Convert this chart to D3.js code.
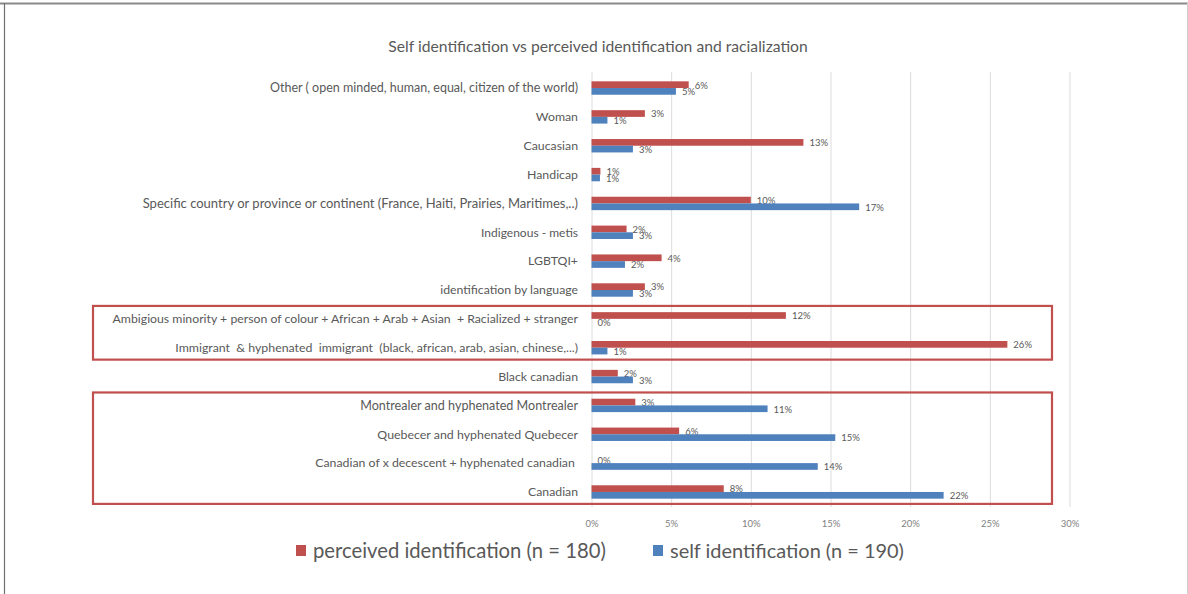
<!DOCTYPE html>
<html><head><meta charset="utf-8">
<script src="https://cdn.jsdelivr.net/npm/d3@7/dist/d3.min.js"></script>
<style>
html,body{margin:0;padding:0;background:#fff;}
svg{display:block;}
text{font-family:"Lato","Open Sans",sans-serif;white-space:pre;}
</style></head>
<body>
<script>
const categories = [
  "Other ( open minded, human, equal, citizen of the world)",
  "Woman",
  "Caucasian",
  "Handicap",
  "Specific country or province or continent (France, Haiti, Prairies, Maritimes,..)",
  "Indigenous - metis",
  "LGBTQI+",
  "identification by language",
  "Ambigious minority + person of colour + African + Arab + Asian  + Racialized + stranger",
  "Immigrant  & hyphenated  immigrant  (black, african, arab, asian, chinese,...)",
  "Black canadian",
  "Montrealer and hyphenated Montrealer",
  "Quebecer and hyphenated Quebecer",
  "Canadian of x decescent + hyphenated canadian ",
  "Canadian"
];
const perceived = [0.061,0.0335,0.133,0.0056,0.100,0.022,0.044,0.0335,0.122,0.261,0.0165,0.0275,0.055,0,0.083];
const selfId    = [0.053,0.010,0.026,0.0053,0.168,0.026,0.021,0.026,0,0.010,0.026,0.1105,0.153,0.142,0.221];
const seriesNames = ["perceived identification (n = 180)","self identification (n = 190)"];
const seriesColors = ["#C0504D","#4F81BD"];
const xTicks = [0,0.05,0.10,0.15,0.20,0.25,0.30];
const title = "Self identification vs perceived identification and racialization";
const highlightGroups = [[8,9],[11,14]];

const W=1188,H=594;
const svg=d3.select("body").append("svg").attr("width",W).attr("height",H);
const x=d3.scaleLinear().domain([0,0.30]).range([591.5,1069.5]);
const y=d3.scaleBand().domain(categories).range([73.6,506.4]).paddingInner(0).paddingOuter(0);
const barH=6.7;
const grey="#595959";

function fit(sel,target){
  const n=sel.node(); const fs=parseFloat(sel.attr("font-size"));
  const w=n.getComputedTextLength();
  sel.attr("font-size",fs*target/w);
}

// frame
svg.append("line").attr("x1",0).attr("x2",W).attr("y1",3.5).attr("y2",3.5).attr("stroke","#8a8a8a").attr("stroke-width",2);
svg.append("line").attr("x1",4.5).attr("x2",4.5).attr("y1",3).attr("y2",H).attr("stroke","#707070").attr("stroke-width",1.2);
svg.append("line").attr("x1",1187.5).attr("x2",1187.5).attr("y1",3).attr("y2",H).attr("stroke","#d0d0d0").attr("stroke-width",1);

// title
const t=svg.append("text").attr("x",598).attr("y",52).attr("text-anchor","middle").attr("fill",grey).attr("font-size",14).text(title);
fit(t,420);

// gridlines
svg.append("g").selectAll("line").data(xTicks).join("line")
  .attr("x1",d=>x(d)+0.5).attr("x2",d=>x(d)+0.5).attr("y1",72).attr("y2",507)
  .attr("stroke","#dcdcdc").attr("stroke-width",1);

// x axis tick labels
const xa=svg.append("g").attr("transform","translate(0,524)")
  .call(d3.axisBottom(x).tickValues(xTicks).tickFormat(d3.format(".0%")).tickSize(0));
xa.select(".domain").remove();
xa.selectAll("text").attr("font-size",9.5).attr("fill","#7f7f7f").attr("dy",0).attr("font-family","Lato,sans-serif");

// category labels (right edge fixed; widths matched to the reference where measured)
const labelWidths = {0:308,4:436,5:97,7:138,8:466,9:403,10:80,11:218,12:201,13:263,14:50};
const cl=svg.append("g").selectAll("text").data(categories).join("text")
  .attr("x",578).attr("y",d=>y(d)+y.bandwidth()/2).attr("dy","0.35em")
  .attr("text-anchor","end").attr("fill",grey).attr("font-size",11).text(d=>d);
{
  const sizes={};
  cl.each(function(d,i){ if(labelWidths[i]) sizes[i]=11*labelWidths[i]/this.getComputedTextLength(); });
  const med=d3.median(Object.values(sizes));
  cl.attr("font-size",(d,i)=>sizes[i]?Math.min(sizes[i],med*1.08):med);
}

// bars
const series=[perceived,selfId];
series.forEach((vals,si)=>{
  const g=svg.append("g");
  g.selectAll("rect").data(vals).join("rect")
    .attr("x",x(0)).attr("y",(d,i)=>y(categories[i])+y.bandwidth()/2-barH+si*barH)
    .attr("width",d=>x(d)-x(0)).attr("height",barH).attr("fill",seriesColors[si]);
  g.selectAll("text").data(vals).join("text")
    .attr("x",d=>x(d)+6).attr("y",(d,i)=>y(categories[i])+y.bandwidth()/2-barH/2+si*barH+0.5)
    .attr("dy","0.35em").attr("font-size",9.5).attr("fill",grey)
    .text(d=>d3.format(".0%")(d));
});

// highlight boxes
svg.append("g").selectAll("rect").data(highlightGroups).join("rect")
  .attr("x",93).attr("width",1052-93)
  .attr("y",d=>y(categories[d[0]])+1.5)
  .attr("height",d=>y(categories[d[1]])+y.bandwidth()-y(categories[d[0]])-4)
  .attr("fill","none").attr("stroke","#C0504D").attr("stroke-width",2.2);

// legend
const lx=[296,653], lw=[293,234];
seriesNames.forEach((s,i)=>{
  svg.append("rect").attr("x",lx[i]).attr("y",545).attr("width",10).attr("height",11).attr("fill",seriesColors[i]);
  const lt=svg.append("text").attr("x",lx[i]+17).attr("y",558).attr("fill",grey).attr("font-size",18).text(s);
  fit(lt,lw[i]);
});
</script>
</body></html>
